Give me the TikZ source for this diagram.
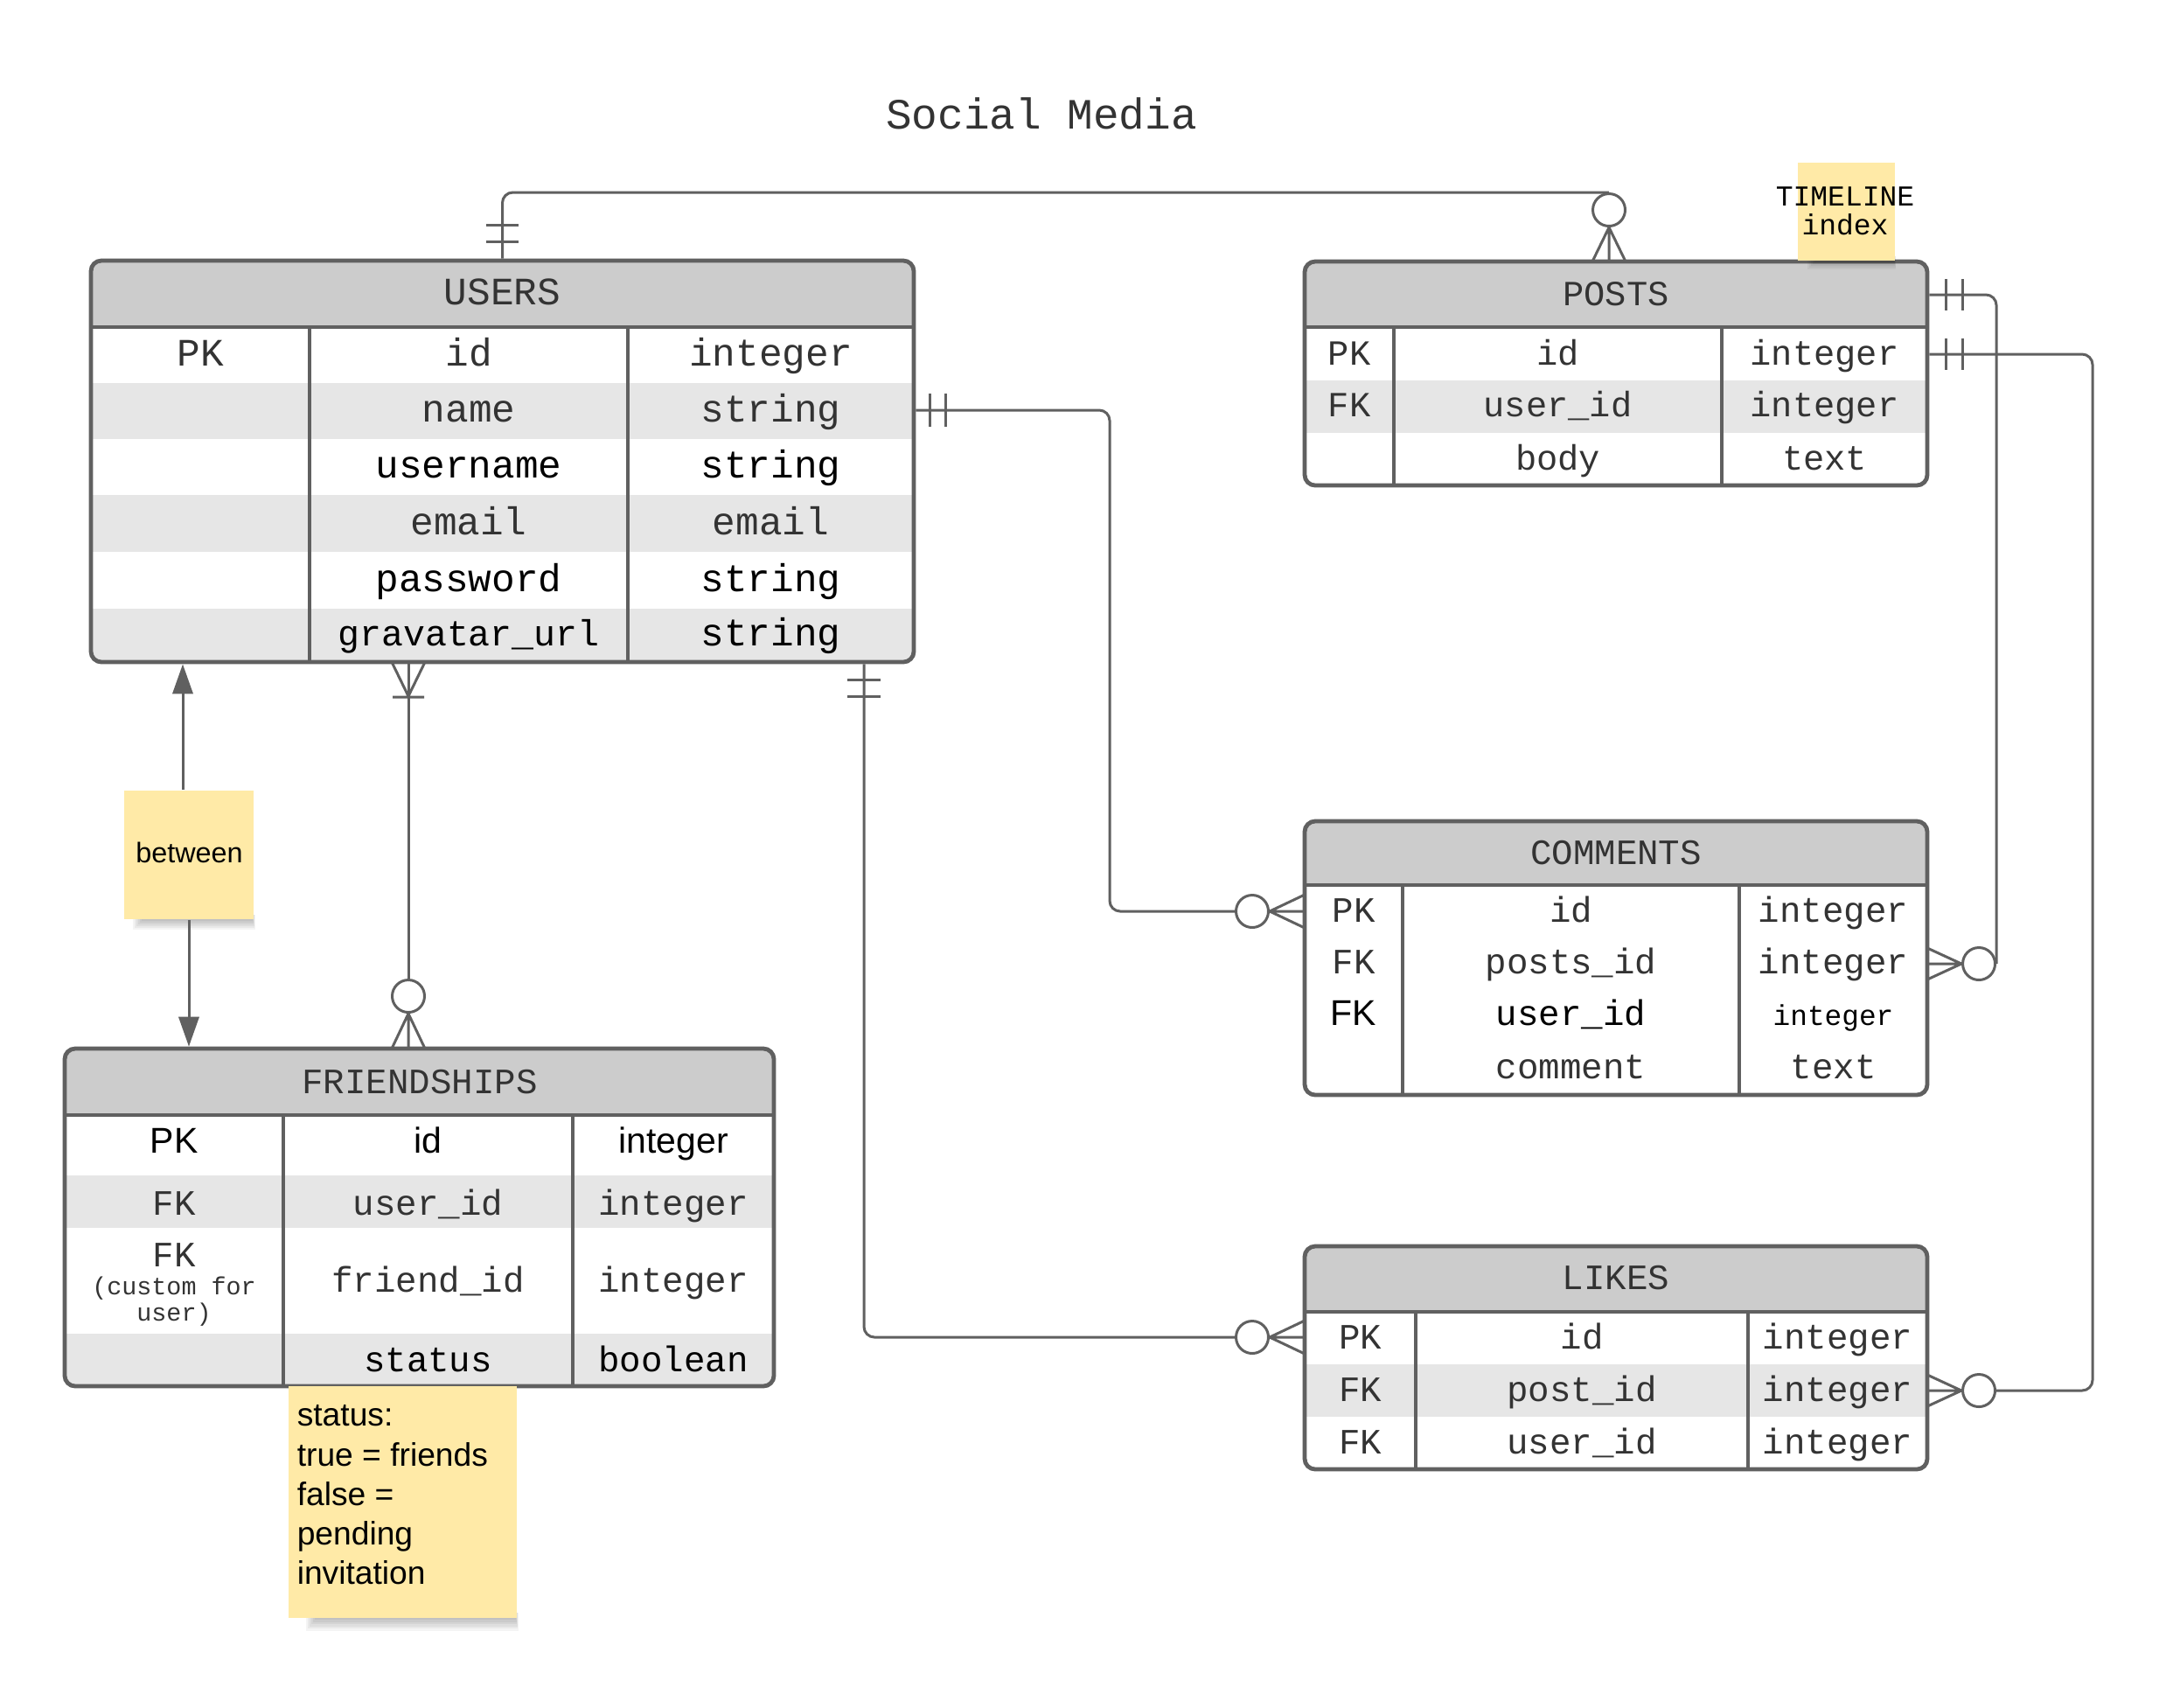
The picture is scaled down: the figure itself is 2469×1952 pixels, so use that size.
\documentclass[tikz,border=0pt]{standalone}
\usepackage{fontspec}
\setmainfont{Liberation Sans}
\setsansfont{Liberation Sans}
\setmonofont{Liberation Mono}
\usetikzlibrary{fit,arrows.meta}
\definecolor{bdr}{RGB}{96,96,96}
\definecolor{hdr}{RGB}{204,204,204}
\definecolor{strp}{RGB}{230,230,230}
\definecolor{txt}{RGB}{51,51,51}
\definecolor{notey}{RGB}{255,234,167}
\newcommand{\fTitle}{\ttfamily\fontsize{12.35pt}{14pt}\selectfont}
\newcommand{\fUsers}{\ttfamily\fontsize{11.1pt}{13pt}\selectfont}
\newcommand{\fGrav}{\ttfamily\fontsize{10.4pt}{12pt}\selectfont}
\newcommand{\fPosts}{\ttfamily\fontsize{10.1pt}{12pt}\selectfont}
\newcommand{\fTab}{\ttfamily\fontsize{10.2pt}{12pt}\selectfont}
\newcommand{\fSmall}{\ttfamily\fontsize{8.2pt}{10pt}\selectfont}
\newcommand{\fCustom}{\ttfamily\fontsize{7.1pt}{7.6pt}\selectfont}
\newcommand{\fSans}{\sffamily\fontsize{10.25pt}{12pt}\selectfont}
\newcommand{\fNote}{\sffamily\fontsize{9.3pt}{11.3pt}\selectfont}
\newcommand{\fBetween}{\sffamily\fontsize{8.1pt}{10pt}\selectfont}
\newcommand{\fTime}{\ttfamily\fontsize{8.25pt}{8.25pt}\selectfont}
\begin{document}
\begin{tikzpicture}[x=0.25pt,y=-0.25pt,
  tbl/.style={draw=bdr, line width=1.2pt, rounded corners=3pt, inner sep=0pt},
  hline/.style={draw=bdr, line width=1.2pt},
  vline/.style={draw=bdr, line width=1pt},
  conn/.style={draw=bdr, line width=0.75pt, rounded corners=3pt},
  mk/.style={draw=bdr, line width=0.75pt},
  ring/.style={circle, draw=bdr, line width=0.75pt, fill=white, minimum size=9.25pt, inner sep=0pt},
  arr/.style={draw=bdr, line width=0.75pt, -{Triangle[length=8.5pt,width=5.8pt]}},
  cell/.style={anchor=base, inner sep=0pt, text=txt},
  dark/.style={text=black},
  notebox/.style={fill=notey, inner sep=0pt},
  shad/.style={fill=black, opacity=0.045},
]
\useasboundingbox (0,0) rectangle (2469,1952);
\fill[white] (0,0) rectangle (2469,1952);

% title
\node[cell, font=\fTitle] (title) at (1191,147) {Social Media};

% ================= USERS
\begin{scope}
  \clip[rounded corners=3pt] (104,298) rectangle (1045,757);
  \fill[white] (104,298) rectangle (1045,757);
  \fill[hdr] (104,298) rectangle (1045,374);
  \fill[strp] (104,437.5) rectangle (1045,502);
  \fill[strp] (104,566) rectangle (1045,631);
  \fill[strp] (104,696) rectangle (1045,757);
\end{scope}
\draw[vline] (354,374) -- (354,757) (718,374) -- (718,757);
\draw[hline] (104,374) -- (1045,374);
\node[tbl, fit={(104,298) (1045,757)}] (users) {};
\begin{scope}[every node/.style={cell, font=\fUsers}]
  \node (uhead) at (574.5,348) {USERS};
  \node (upk) at (229,418) {PK};
  \node (uid) at (536,418) {id};
  \node (uidt) at (881.5,418) {integer};
  \node (uname) at (536,482) {name};
  \node (unamet) at (881.5,482) {string};
  \node[dark] (uuser) at (536,546) {username};
  \node[dark] (uusert) at (881.5,546) {string};
  \node (umail) at (536,611) {email};
  \node (umailt) at (881.5,611) {email};
  \node[dark] (upass) at (536,676) {password};
  \node[dark] (upasst) at (881.5,676) {string};
  \node[dark, font=\fGrav] (ugrav) at (536,738) {gravatar\_url};
  \node[dark] (ugravt) at (881.5,738) {string};
\end{scope}

% ================= POSTS
\begin{scope}
  \clip[rounded corners=3pt] (1492,299) rectangle (2204,555);
  \fill[white] (1492,299) rectangle (2204,555);
  \fill[hdr] (1492,299) rectangle (2204,374);
  \fill[strp] (1492,435) rectangle (2204,494.5);
\end{scope}
\draw[vline] (1594,374) -- (1594,555) (1969,374) -- (1969,555);
\draw[hline] (1492,374) -- (2204,374);
\node[tbl, fit={(1492,299) (2204,555)}] (posts) {};
\begin{scope}[every node/.style={cell, font=\fPosts}]
  \node (phead) at (1848,349) {POSTS};
  \node (ppk) at (1543,417) {PK};
  \node (pid) at (1781.5,417) {id};
  \node (pidt) at (2086.5,417) {integer};
  \node (pfk) at (1543,476) {FK};
  \node (puid) at (1781.5,476) {user\_id};
  \node (puidt) at (2086.5,476) {integer};
  \node (pbody) at (1781.5,537) {body};
  \node (pbodyt) at (2086.5,537) {text};
\end{scope}

% ================= COMMENTS
\begin{scope}
  \clip[rounded corners=3pt] (1492,939) rectangle (2204,1252);
  \fill[white] (1492,939) rectangle (2204,1252);
  \fill[hdr] (1492,939) rectangle (2204,1012);
\end{scope}
\draw[vline] (1604,1012) -- (1604,1252) (1989,1012) -- (1989,1252);
\draw[hline] (1492,1012) -- (2204,1012);
\node[tbl, fit={(1492,939) (2204,1252)}] (comments) {};
\begin{scope}[every node/.style={cell, font=\fTab}]
  \node (chead) at (1848,988) {COMMENTS};
  \node (cpk) at (1548,1054) {PK};
  \node (cid) at (1796.5,1054) {id};
  \node (cidt) at (2096.5,1054) {integer};
  \node (cfk1) at (1548,1113) {FK};
  \node (cpid) at (1796.5,1113) {posts\_id};
  \node (cpidt) at (2096.5,1113) {integer};
  \node[dark, font=\fSans] (cfk2) at (1548,1172) {FK};
  \node[dark] (cuid) at (1796.5,1172) {user\_id};
  \node[dark, font=\fSmall] (cuidt) at (2096.5,1172) {integer};
  \node (ccom) at (1796.5,1233) {comment};
  \node (ccomt) at (2096.5,1233) {text};
\end{scope}

% ================= LIKES
\begin{scope}
  \clip[rounded corners=3pt] (1492,1425) rectangle (2204,1680);
  \fill[white] (1492,1425) rectangle (2204,1680);
  \fill[hdr] (1492,1425) rectangle (2204,1500);
  \fill[strp] (1492,1560) rectangle (2204,1620);
\end{scope}
\draw[vline] (1619,1500) -- (1619,1680) (1999,1500) -- (1999,1680);
\draw[hline] (1492,1500) -- (2204,1500);
\node[tbl, fit={(1492,1425) (2204,1680)}] (likes) {};
\begin{scope}[every node/.style={cell, font=\fTab}]
  \node (lhead) at (1848,1474) {LIKES};
  \node (lpk) at (1555.5,1542) {PK};
  \node (lid) at (1809,1542) {id};
  \node (lidt) at (2101.5,1542) {integer};
  \node (lfk1) at (1555.5,1602) {FK};
  \node (lpid) at (1809,1602) {post\_id};
  \node (lpidt) at (2101.5,1602) {integer};
  \node (lfk2) at (1555.5,1662) {FK};
  \node (luid) at (1809,1662) {user\_id};
  \node (luidt) at (2101.5,1662) {integer};
\end{scope}

% ================= FRIENDSHIPS
\begin{scope}
  \clip[rounded corners=3pt] (74,1199) rectangle (885,1585);
  \fill[white] (74,1199) rectangle (885,1585);
  \fill[hdr] (74,1199) rectangle (885,1275);
  \fill[strp] (74,1344) rectangle (885,1404);
  \fill[strp] (74,1525) rectangle (885,1585);
\end{scope}
\draw[vline] (324,1275) -- (324,1585) (655,1275) -- (655,1585);
\draw[hline] (74,1275) -- (885,1275);
\node[tbl, fit={(74,1199) (885,1585)}] (friends) {};
\begin{scope}[every node/.style={cell, font=\fTab}]
  \node (fhead) at (480,1250) {FRIENDSHIPS};
  \node[dark, font=\fSans] (fpk) at (199,1318) {PK};
  \node[dark, font=\fSans] (fid) at (489.5,1318) {id};
  \node[dark, font=\fSans] (fidt) at (770,1318) {integer};
  \node (ffk1) at (199,1389) {FK};
  \node (fuid) at (489.5,1389) {user\_id};
  \node (fuidt) at (770,1389) {integer};
  \node (ffk2) at (199,1448) {FK};
  \node[font=\fCustom, align=center] (fcustom) at (199,1510.5) {(custom for\\user)};
  \node (ffid) at (489.5,1477.5) {friend\_id};
  \node (ffidt) at (770,1477.5) {integer};
  \node[dark] (fstat) at (489.5,1568) {status};
  \node[dark] (fstatt) at (770,1568) {boolean};
\end{scope}

% ================= connectors
% USERS -- POSTS
\node[ring] (c1) at (1840,240) {};
\draw[conn] (users.north) |- (c1.north);
\draw[mk] (555.5,257) -- (592.5,257) (555.5,276.5) -- (592.5,276.5);
\draw[mk] (c1.south) -- (1821,299) (c1.south) -- (1840,299) (c1.south) -- (1859,299);

% USERS -- COMMENTS
\node[ring] (c2) at (1432,1042) {};
\draw[conn] (users.east |- 0,469) -| (1269,1042) -- (c2.west);
\draw[mk] (1063,450) -- (1063,488) (1081.5,450) -- (1081.5,488);
\draw[mk] (c2.east) -- (1492,1023) (c2.east) -- (1492,1042) (c2.east) -- (1492,1061);

% USERS -- FRIENDSHIPS
\node[ring] (c3) at (467,1139) {};
\draw[conn] (users.south -| 467,0) -- (c3.north);
\draw[mk] (448,757) -- (467,796) -- (486,757) (449,797) -- (485,797);
\draw[mk] (c3.south) -- (448,1199) (c3.south) -- (467,1199) (c3.south) -- (486,1199);

% USERS -- LIKES
\node[ring] (c4) at (1432,1529) {};
\draw[conn] (users.south -| 988,0) |- (c4.west);
\draw[mk] (969,777) -- (1007,777) (969,796) -- (1007,796);
\draw[mk] (c4.east) -- (1492,1510) (c4.east) -- (1492,1529) (c4.east) -- (1492,1548);

% POSTS -- COMMENTS
\node[ring] (c5) at (2263,1102) {};
\draw[conn] (posts.east |- 0,337) -| (c5.east);
\draw[mk] (2225,319) -- (2225,355) (2244,319) -- (2244,355);
\draw[mk] (c5.west) -- (2204,1084) (c5.west) -- (2204,1102) (c5.west) -- (2204,1120);

% POSTS -- LIKES
\node[ring] (c6) at (2263,1590) {};
\draw[conn] (posts.east |- 0,405) -| (2393,1590) -- (c6.east);
\draw[mk] (2225,387) -- (2225,423) (2244,387) -- (2244,423);
\draw[mk] (c6.west) -- (2204,1572) (c6.west) -- (2204,1590) (c6.west) -- (2204,1608);

% ================= notes
% between
\foreach \k in {0,...,5} {\fill[shad] (162-\k*2,1046) rectangle (289+\k*0.5,1053+\k*2);}
\node[notebox, fit={(142,904) (290,1051)}] (between) {};
\node[cell, dark, font=\fBetween] (betweentext) at (216.5,986) {between};
\draw[arr] ([xshift=-1.75pt]between.north) -- ([xshift=-1.75pt]between.north |- users.south);
\draw[arr] (between.south) -- (between.south |- friends.north);

% status note
\foreach \k in {0,...,5} {\fill[shad] (360-\k*2,1844) rectangle (590+\k*0.5,1852+\k*2.5);}
\node[notebox, fit={(330,1585) (591,1850)}] (statusnote) {};
\node[anchor=base west, inner sep=0pt, align=left, font=\fNote, text=black] (statustext) at (339,1811.6) {status:\\true = friends\\false =\\pending\\invitation};

% timeline note
\foreach \k in {0,...,4} {\fill[shad] (2075-\k*2,293) rectangle (2166+\k*0.5,300+\k*2);}
\node[notebox, fit={(2056,186) (2167,298)}] (timeline) {};
\node[anchor=base, inner sep=0pt, align=center, font=\fTime, text=black] (timelinetext) at (2110,268) {TIMELINE\\index};
\end{tikzpicture}
\end{document}
